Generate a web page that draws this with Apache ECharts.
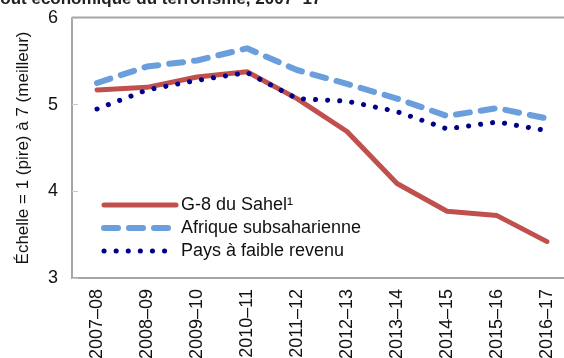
<!DOCTYPE html>
<html>
<head>
<meta charset="utf-8">
<script src="https://cdn.jsdelivr.net/npm/echarts@6/dist/echarts.min.js"></script>
<style>
  html, body { margin: 0; padding: 0; background: #fff; }
  #chart { width: 564px; height: 358px; }
</style>
</head>
<body>
<div id="chart"></div>
<script>
// Periods on the horizontal axis
const periods = ['2007–08', '2008–09', '2009–10', '2010–11', '2011–12',
                 '2012–13', '2013–14', '2014–15', '2015–16', '2016–17'];

// Index scores, scale 1 (worst) to 7 (best)
const sahelG8 = [5.17, 5.20, 5.32, 5.38, 5.07, 4.69, 4.09, 3.77, 3.72, 3.42];
const subSaharanAfrica = [5.25, 5.44, 5.51, 5.65, 5.40, 5.24, 5.07, 4.87, 4.96, 4.84];
const lowIncome = [4.95, 5.17, 5.28, 5.37, 5.07, 5.04, 4.92, 4.72, 4.80, 4.70];

const seriesNames = ['G-8 du Sahel¹', 'Afrique subsaharienne', 'Pays à faible revenu'];
const yTicks = [3, 4, 5, 6];

const font = 'Liberation Sans, Arial, sans-serif';
const red = '#C0504D';
const lightBlue = '#6A9EDC';
const navy = '#00008B';

const lineStyles = [
  { color: red, width: 5, cap: 'round', join: 'round' },
  { color: lightBlue, width: 6, type: [14, 11], cap: 'round', join: 'round' },
  { color: navy, width: 5, type: [0.1, 12], cap: 'round', join: 'round' }
];

const chart = echarts.init(document.getElementById('chart'));

chart.setOption({
  animation: false,
  backgroundColor: '#fff',
  graphic: [{
    type: 'text',
    left: -12,
    top: -9,
    style: {
      text: 'Coût économique du terrorisme, 2007–17',
      font: 'bold 17px ' + font,
      fill: '#222'
    }
  }, {
    // top frame line across the plot area
    type: 'line',
    shape: { x1: 72, y1: 17.5, x2: 564, y2: 17.5 },
    style: { stroke: '#a6a6a6', lineWidth: 2 }
  }],
  grid: { left: 72, width: 500, top: 18, height: 260, outerBoundsMode: 'none', containLabel: false },
  legend: {
    left: 96,
    top: 191,
    orient: 'vertical',
    itemWidth: 72,
    itemHeight: 12,
    itemGap: 5,
    itemStyle: { opacity: 0 },
    textStyle: { fontFamily: font, fontSize: 18, color: '#111', padding: [0, 0, 0, 0] },
    data: seriesNames.map((n, i) => ({ name: n, lineStyle: lineStyles[i] }))
  },
  xAxis: {
    type: 'category',
    data: periods,
    boundaryGap: true,
    axisLine: { lineStyle: { color: '#a6a6a6', width: 2 } },
    axisTick: { inside: true, length: 6, lineStyle: { color: '#c8c8c8', width: 1 } },
    axisLabel: { rotate: 90, fontFamily: font, fontSize: 18, color: '#111', margin: 11, interval: 0 }
  },
  yAxis: {
    type: 'value',
    min: yTicks[0],
    max: yTicks[yTicks.length - 1],
    interval: 1,
    name: 'Échelle = 1 (pire) à 7 (meilleur)',
    nameLocation: 'middle',
    nameGap: 40,
    nameTextStyle: { fontFamily: font, fontSize: 17, color: '#111' },
    axisLine: { show: true, lineStyle: { color: '#a6a6a6', width: 2 } },
    axisTick: { show: true, inside: true, length: 6, lineStyle: { color: '#c8c8c8', width: 1 } },
    axisLabel: { fontFamily: font, fontSize: 18, color: '#111', margin: 14 },
    splitLine: { show: false }
  },
  series: [
    {
      name: seriesNames[0],
      type: 'line',
      data: sahelG8,
      symbol: 'none',
      z: 3,
      lineStyle: lineStyles[0],
      itemStyle: { color: red }
    },
    {
      name: seriesNames[1],
      type: 'line',
      data: subSaharanAfrica,
      symbol: 'none',
      z: 2,
      lineStyle: lineStyles[1],
      itemStyle: { color: lightBlue }
    },
    {
      name: seriesNames[2],
      type: 'line',
      data: lowIncome,
      symbol: 'none',
      z: 4,
      lineStyle: lineStyles[2],
      itemStyle: { color: navy }
    }
  ]
});
</script>
</body>
</html>
